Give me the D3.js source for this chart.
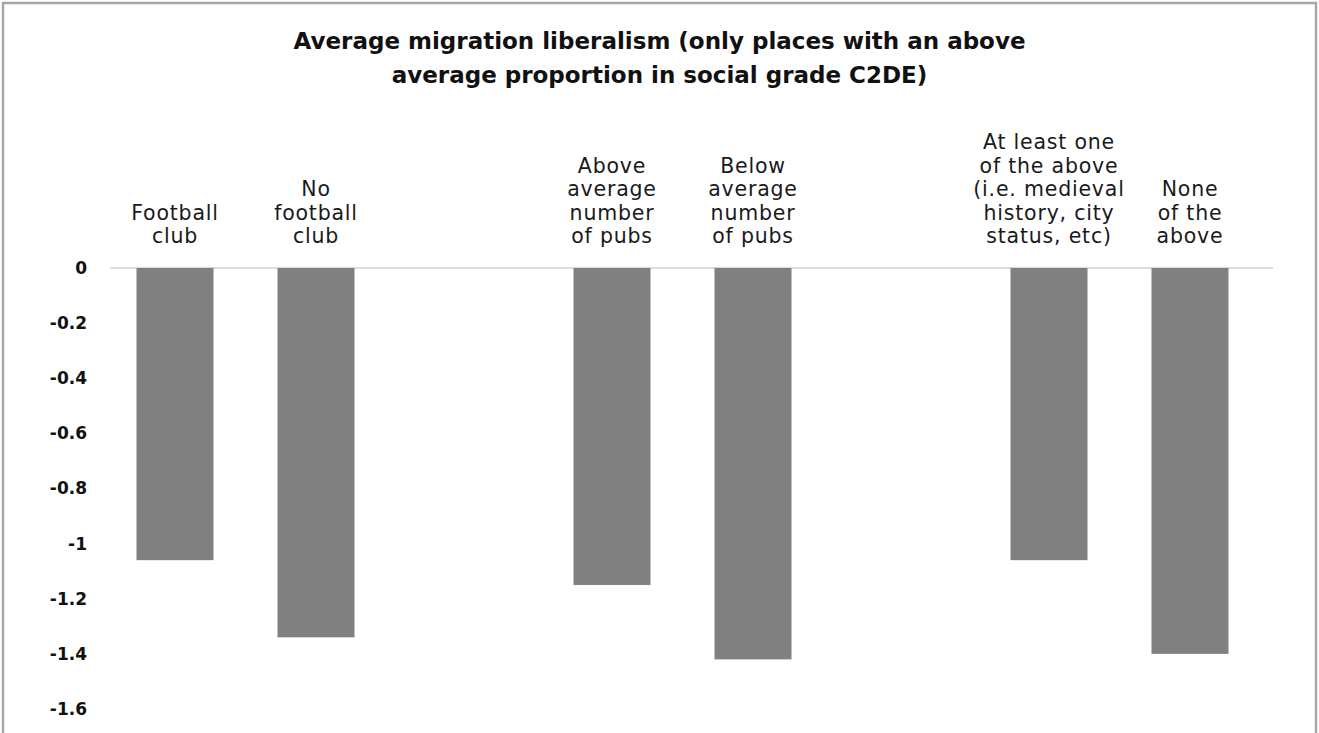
<!DOCTYPE html>
<html>
<head>
<meta charset="utf-8">
<script src="https://cdn.jsdelivr.net/npm/d3@7"></script>
<style>
  html, body { margin: 0; padding: 0; background: #fff; }
  svg { display: block; }
</style>
</head>
<body>
<div id="chart"></div>
<script>
// Chart data
const titleLines = [
  "Average migration liberalism (only places with an above",
  "average proportion in social grade C2DE)"
];
const groups = ["football", "pubs", "heritage"];
const series = ["first", "second"];
const categoryLabels = [
  ["Football", "club"],
  ["No", "football", "club"],
  ["Above", "average", "number", "of pubs"],
  ["Below", "average", "number", "of pubs"],
  ["At least one", "of the above", "(i.e. medieval", "history, city", "status, etc)"],
  ["None", "of the", "above"]
];
const values = [-1.06, -1.34, -1.15, -1.42, -1.06, -1.40];
const yTicks = [0, -0.2, -0.4, -0.6, -0.8, -1, -1.2, -1.4, -1.6];

const W = 1319, H = 733;
const plot = { left: 110, right: 1273, top: 268, bottom: 709 };
const fontFamily = "'DejaVu Sans', Verdana, sans-serif";

const svg = d3.select("#chart").append("svg")
  .attr("width", W).attr("height", H);

// outer frame
svg.append("rect")
  .attr("x", 3).attr("y", 3)
  .attr("width", W - 6).attr("height", H + 10)
  .attr("fill", "#fff")
  .attr("stroke", "#a6a6a6")
  .attr("stroke-width", 2.5);

// scales
const y = d3.scaleLinear().domain([0, -1.6]).range([plot.top, plot.bottom]);
const xGroup = d3.scaleBand().domain(groups).range([27, 1338]);
const xInner = d3.scalePoint().domain(series).range([-70.5, 70.5]);
const barWidth = 77;

const rows = values.map((v, i) => ({
  value: v,
  group: groups[Math.floor(i / 2)],
  series: series[i % 2],
  label: categoryLabels[i]
}));
const cx = d => xGroup(d.group) + xGroup.bandwidth() / 2 + xInner(d.series);

// title
svg.append("text")
  .attr("text-anchor", "middle")
  .attr("font-family", fontFamily)
  .attr("font-weight", 700)
  .attr("font-size", 23)
  .attr("fill", "#111")
  .selectAll("tspan")
  .data(titleLines)
  .join("tspan")
  .attr("x", W / 2)
  .attr("y", (d, i) => 49 + i * 34)
  .text(d => d);

// y axis labels
const yAxis = d3.axisLeft(y).tickValues(yTicks).tickSize(0).tickPadding(0)
  .tickFormat(d => String(+d.toFixed(1)));
svg.append("g")
  .attr("transform", "translate(87,0)")
  .call(yAxis)
  .call(g => g.select(".domain").remove())
  .call(g => g.selectAll("text")
    .attr("font-family", fontFamily)
    .attr("font-weight", 700)
    .attr("font-size", 17)
    .attr("fill", "#111"));

// zero line
svg.append("line")
  .attr("x1", plot.left).attr("x2", plot.right)
  .attr("y1", y(0)).attr("y2", y(0))
  .attr("stroke", "#d0d0d0").attr("stroke-width", 1.5);

// bars
svg.append("g").selectAll("rect")
  .data(rows)
  .join("rect")
  .attr("x", d => cx(d) - barWidth / 2)
  .attr("width", barWidth)
  .attr("y", y(0))
  .attr("height", d => y(d.value) - y(0))
  .attr("fill", "#808080");

// category labels, stacked upward from the zero line
const lineH = 23.5;
const labelBase = 243;
svg.append("g").selectAll("text")
  .data(rows)
  .join("text")
  .attr("text-anchor", "middle")
  .attr("font-family", fontFamily)
  .attr("font-size", 20.5)
  .attr("letter-spacing", 0.8)
  .attr("fill", "#1a1a1a")
  .each(function (d) {
    const n = d.label.length;
    d3.select(this).selectAll("tspan")
      .data(d.label)
      .join("tspan")
      .attr("x", cx(d))
      .attr("y", (t, i) => labelBase - (n - 1 - i) * lineH)
      .text(t => t);
  });
</script>
</body>
</html>
